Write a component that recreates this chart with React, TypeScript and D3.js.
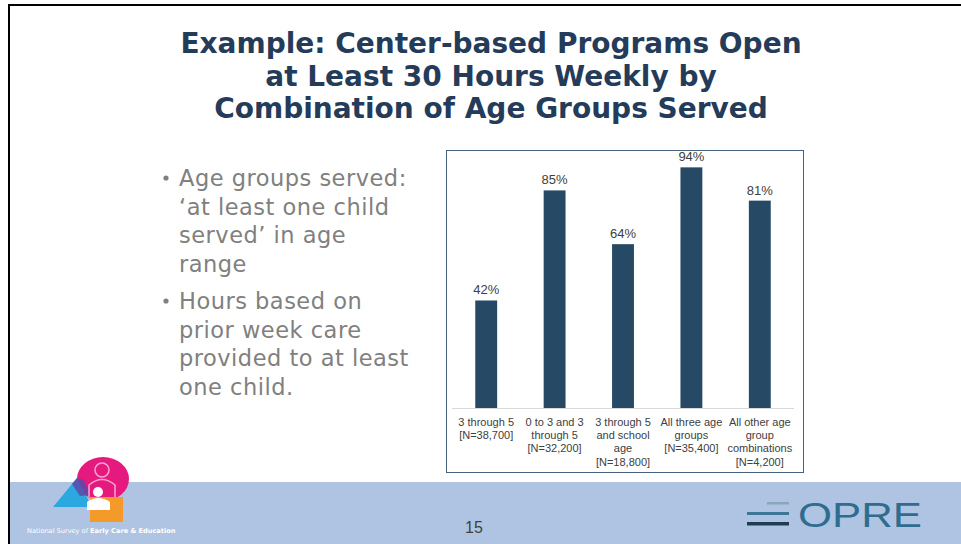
import React from 'react'
import * as d3 from 'd3'

const categories = ['3 through 5', '0 to 3 and 3 through 5', '3 through 5 and school age', 'All three age groups', 'All other age group combinations']
const labelLines = [
  ['3 through 5', '[N=38,700]'],
  ['0 to 3 and 3', 'through 5', '[N=32,200]'],
  ['3 through 5', 'and school', 'age', '[N=18,800]'],
  ['All three age', 'groups', '[N=35,400]'],
  ['All other age', 'group', 'combinations', '[N=4,200]'],
]
const values = [42, 85, 64, 94, 81]

const titleLines = ['Example: Center-based Programs Open', 'at Least 30 Hours Weekly by', 'Combination of Age Groups Served']
const bullets = [
  ['Age groups served:', '\u2018at least one child', 'served\u2019 in age', 'range'],
  ['Hours based on', 'prior week care', 'provided to at least', 'one child.'],
]

const W = 961
const H = 544

export default function App() {
  const x = d3.scaleBand().domain(categories).range([452, 794]).paddingInner(0.68).paddingOuter(0.34)
  const y = d3.scaleLinear().domain([0, 100]).range([408, 152])
  const barColor = '#264a66'

  return (
    <svg width={W} height={H} style={{ position: 'absolute', left: 0, top: 0, background: '#fff' }}>
      {/* slide frame */}
      <line x1={9} y1={5} x2={W} y2={5} stroke="#000" strokeWidth={2} />
      <line x1={9} y1={4} x2={9} y2={H} stroke="#000" strokeWidth={2} />

      {/* title */}
      <g fontFamily="DejaVu Sans" fontWeight="bold" fontSize={28} fill="#243b5a" textAnchor="middle">
        {titleLines.map((t, i) => (
          <text key={i} x={491} y={53 + i * 32.5}>{t}</text>
        ))}
      </g>

      {/* bullets */}
      <g fontFamily="DejaVu Sans" fontSize={22.5} fill="#808080" letterSpacing={0.5}>
        {bullets.map((b, bi) =>
          b.map((t, i) => (
            <text key={bi + '-' + i} x={179} y={186 + bi * 123 + i * 28.5}>{t}</text>
          ))
        )}
        {bullets.map((b, bi) => (
          <circle key={'d' + bi} cx={166} cy={178 + bi * 123} r={2.6} fill="#808080" />
        ))}
      </g>

      {/* chart box */}
      <rect x={446.5} y={150.5} width={357} height={322} fill="#fff" stroke="#47627c" strokeWidth={1} />
      <line x1={452} x2={794} y1={y(0) + 0.5} y2={y(0) + 0.5} stroke="#d9d9d9" />
      {values.map((v, i) => (
        <g key={i}>
          <rect x={x(categories[i])} y={y(v)} width={x.bandwidth()} height={y(0) - y(v)} fill={barColor} />
          <text x={x(categories[i])! + x.bandwidth() / 2} y={y(v) - 6} textAnchor="middle" fontFamily="Liberation Sans" fontSize={13} fill="#404040">
            {v}%
          </text>
        </g>
      ))}
      <g fontFamily="Liberation Sans" fontSize={11} fill="#404040" textAnchor="middle">
        {labelLines.map((lines, i) =>
          lines.map((t, j) => (
            <text key={i + '-' + j} x={x(categories[i])! + x.bandwidth() / 2} y={426 + j * 13.2}>{t}</text>
          ))
        )}
      </g>

      {/* footer band */}
      <rect x={10} y={482} width={W - 10} height={H - 482} fill="#afc4e2" />
      <text x={474} y={533} textAnchor="middle" fontFamily="Liberation Sans" fontSize={16} fill="#404040">15</text>

      {/* NSECE logo approximation */}
      <g>
        <ellipse cx={103} cy={479} rx={26} ry={22} fill="#e6197f" />
        <polygon points="53,507 77,478 92,507" fill="#2aa8df" />
        <polygon points="72,484 77,478 84,480 90,495 80,496" fill="#5b4aa8" opacity={0.85} />
        <rect x={90} y={497} width={33} height={25} fill="#f39a2b" />
        <circle cx={102} cy={470} r={7} fill="none" stroke="#f7a7cf" strokeWidth={1.5} />
        <path d="M89,497 L89,485 Q102,474 115,485 L115,497" fill="none" stroke="#f7a7cf" strokeWidth={1.5} />
        <circle cx={98} cy={492} r={5} fill="#fff" />
        <path d="M87,510 L87,502 Q98,494 110,502 L110,510 Z" fill="#fff" />
        <text x={27} y={533} fontFamily="DejaVu Sans" fontSize={6.6} fill="#fff">
          National Survey of <tspan fontWeight="bold">Early Care &amp; Education</tspan>
        </text>
      </g>

      {/* OPRE logo */}
      <g>
        <rect x={767} y={502} width={22} height={2.5} fill="#8aa6ba" />
        <rect x={747} y={512} width={42} height={3} fill="#3e7696" />
        <rect x={747} y={522} width={42} height={3.5} fill="#1f3d52" />
        <text x={798} y={527} fontFamily="Liberation Sans" fontSize={35} fill="#2f6d90" textLength={124} lengthAdjust="spacingAndGlyphs">OPRE</text>
      </g>
    </svg>
  )
}
